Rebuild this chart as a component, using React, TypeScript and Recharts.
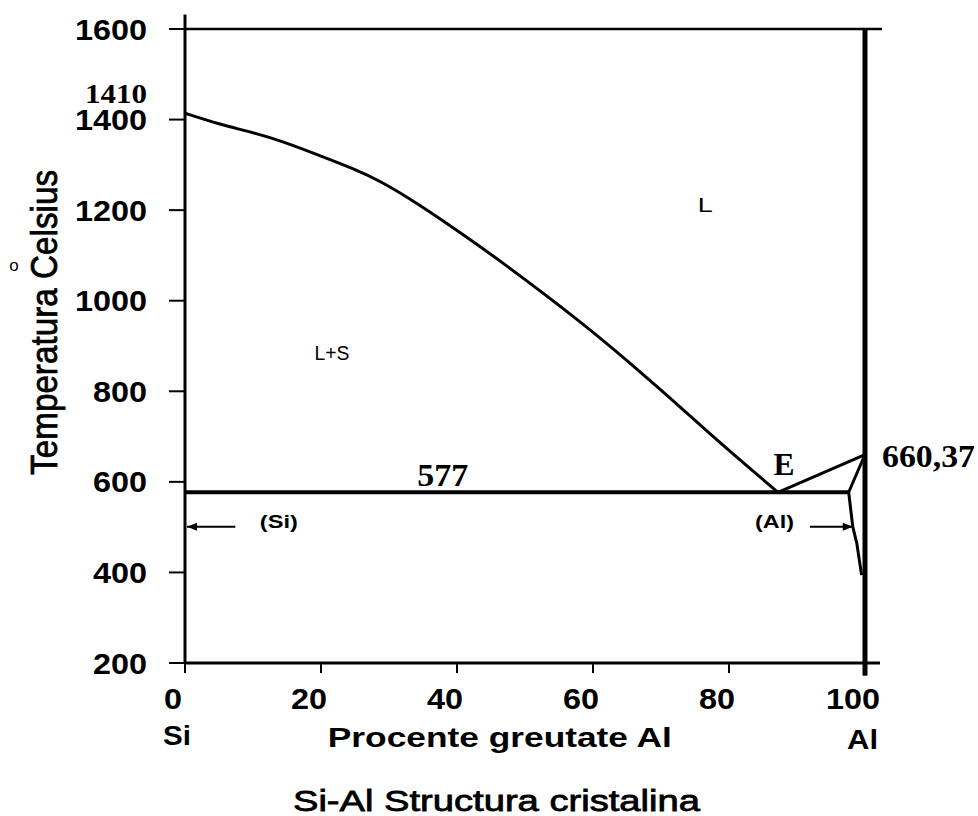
import React from "react";
import { ComposedChart, Line, XAxis, YAxis, ReferenceDot, ReferenceLine } from "recharts";

// Si-Al phase diagram
const liquidusPct = [0, 5.2, 9.1, 14, 19.9, 24.7, 28.7, 34.6, 40.9, 46.3, 58.6, 68.4, 78.2, 87.2];
const liquidusTemp = [1414, 1389, 1375, 1354, 1320, 1292, 1265, 1211, 1146, 1089, 950, 825, 692, 577];
const eutecticPct = 87.2;
const eutecticTemp = 577;
const alSolidPct = 97.6;
const alMeltTemp = 660.37;
const solvusPct = [97.6, 98.2, 98.8, 99.5];
const solvusTemp = [577, 501, 464, 394];
const arrowTemp = 501;
const siArrowPct = [0.3, 7.4];
const alArrowPct = [91.9, 98.2];

const tempTicks = [200, 400, 600, 800, 1000, 1200, 1400, 1600];
const pctTicks = [0, 20, 40, 60, 80, 100];
const topTicks = [20, 40, 60, 80, 100];
const rightTicks = [400, 600, 800, 1000, 1200, 1400];

const liquidus = liquidusPct.map((x, i) => ({ x, t: liquidusTemp[i] }));
const eutecticLine = [{ x: 0, t: eutecticTemp }, { x: alSolidPct, t: eutecticTemp }];
const alLiquidus = [{ x: eutecticPct, t: eutecticTemp }, { x: 100, t: alMeltTemp }];
const alSolidus = [{ x: alSolidPct, t: eutecticTemp }, { x: 100, t: alMeltTemp }];
const solvus = solvusPct.map((x, i) => ({ x, t: solvusTemp[i] }));
const siArrow = siArrowPct.map(x => ({ x, t: arrowTemp }));
const alArrow = alArrowPct.map(x => ({ x, t: arrowTemp }));

const SANS = "'Liberation Sans', Arial, sans-serif";
const SERIF = "'Liberation Serif', 'Times New Roman', serif";

type NoteOpts = {
  dx?: number;
  dy?: number;
  size: number;
  family?: string;
  weight?: string;
  anchor?: "start" | "middle" | "end";
  length?: number;
  rotate?: boolean;
  heavy?: number;
};

const note = (text: string, o: NoteOpts) => ({
  content: (props: any) => {
    const vb = props.viewBox || {};
    const x = (vb.x ?? 0) + (o.dx ?? 0);
    const y = (vb.y ?? 0) + (o.dy ?? 0);
    return (
      <text
        x={x}
        y={y}
        textAnchor={o.anchor ?? "middle"}
        fontSize={o.size}
        fontFamily={o.family ?? SANS}
        fontWeight={o.weight ?? "normal"}
        fill="#000"
        stroke={o.heavy ? "#000" : undefined}
        strokeWidth={o.heavy}
        textLength={o.length}
        lengthAdjust={o.length ? "spacingAndGlyphs" : undefined}
        transform={o.rotate ? `rotate(-90 ${x} ${y})` : undefined}
      >
        {text}
      </text>
    );
  },
});

const XTick = (props: any) => {
  const { x, y, payload } = props;
  const s = String(payload.value);
  return (
    <text x={x - 12} y={y + 31} textAnchor="middle" fontSize={29} fontFamily={SANS} fontWeight="bold"
      fill="#000" textLength={s.length * 18} lengthAdjust="spacingAndGlyphs">
      {s}
    </text>
  );
};

const YTick = (props: any) => {
  const { x, y, payload } = props;
  const s = String(payload.value);
  return (
    <text x={x} y={y + 10.5} textAnchor="end" fontSize={29} fontFamily={SANS} fontWeight="bold"
      fill="#000" textLength={s.length * 18} lengthAdjust="spacingAndGlyphs">
      {s}
    </text>
  );
};

const arrowHead = (dir: "left" | "right", at: "first" | "last") => (p: any) => {
  const isEnd = at === "first" ? p.index === 0 : p.index === 1;
  if (!isEnd) return <g key={p.index} />;
  const { cx, cy } = p;
  const d = dir === "left"
    ? `M${cx},${cy} L${cx + 10},${cy - 4} L${cx + 10},${cy + 4} Z`
    : `M${cx},${cy} L${cx - 10},${cy - 4} L${cx - 10},${cy + 4} Z`;
  return <path key={p.index} d={d} fill="#000" />;
};

const lineProps = {
  xAxisId: "b",
  yAxisId: "l",
  dataKey: "t",
  stroke: "#000",
  dot: false,
  activeDot: false,
  isAnimationActive: false,
} as const;

const refProps = { xAxisId: "b", yAxisId: "l", r: 0, fill: "none", stroke: "none", ifOverflow: "visible" } as const;

export default function App() {
  return (
    <div style={{ position: "absolute", left: 0, top: 0, width: 978, height: 816, background: "#fff" }}>
      <ComposedChart width={978} height={816} margin={{ top: 0, right: 0, bottom: 0, left: 0 }}>
        <XAxis xAxisId="b" dataKey="x" type="number" domain={[0, 100]} ticks={pctTicks} orientation="bottom"
          height={153} tickSize={10} tickMargin={5} interval={0} tick={<XTick />}
          axisLine={{ stroke: "#000", strokeWidth: 3 }} tickLine={{ stroke: "#000", strokeWidth: 2 }} />
        <XAxis xAxisId="t" dataKey="x" type="number" domain={[0, 100]} ticks={topTicks} orientation="top"
          height={29} tickSize={14} tick={false} interval={0}
          axisLine={{ stroke: "#000", strokeWidth: 2.5 }} tickLine={{ stroke: "#000", strokeWidth: 2 }} />
        <YAxis yAxisId="l" type="number" domain={[200, 1600]} ticks={tempTicks} orientation="left"
          width={185} tickSize={16} tickMargin={22} interval={0} tick={<YTick />}
          axisLine={{ stroke: "#000", strokeWidth: 3 }} tickLine={{ stroke: "#000", strokeWidth: 2 }} />
        <YAxis yAxisId="r" type="number" domain={[200, 1600]} ticks={rightTicks} orientation="right"
          width={113} tickSize={15} tick={false} interval={0}
          axisLine={{ stroke: "#000", strokeWidth: 5 }} tickLine={{ stroke: "#000", strokeWidth: 2 }} />

        <ReferenceLine xAxisId="b" yAxisId="l" ifOverflow="visible" stroke="#000" strokeWidth={3}
          segment={[{ x: 100, y: 200 }, { x: 102.2, y: 200 }]} />
        <ReferenceLine xAxisId="b" yAxisId="l" ifOverflow="visible" stroke="#000" strokeWidth={2.5}
          segment={[{ x: 100, y: 1600 }, { x: 102.5, y: 1600 }]} />
        <ReferenceLine xAxisId="b" yAxisId="l" ifOverflow="visible" stroke="#000" strokeWidth={3}
          segment={[{ x: 0, y: 1600 }, { x: 0, y: 1632 }]} />
        <ReferenceLine xAxisId="b" yAxisId="l" ifOverflow="visible" stroke="#000" strokeWidth={5}
          segment={[{ x: 100, y: 200 }, { x: 100, y: 172 }]} />

        <Line {...lineProps} data={liquidus} type="basis" strokeWidth={3} />
        <Line {...lineProps} data={eutecticLine} type="linear" strokeWidth={4} />
        <Line {...lineProps} data={alLiquidus} type="linear" strokeWidth={3} />
        <Line {...lineProps} data={alSolidus} type="linear" strokeWidth={3} />
        <Line {...lineProps} data={solvus} type="linear" strokeWidth={3} />
        <Line {...lineProps} data={siArrow} type="linear" strokeWidth={2} dot={arrowHead("left", "first")} />
        <Line {...lineProps} data={alArrow} type="linear" strokeWidth={2} dot={arrowHead("right", "last")} />

        <ReferenceDot {...refProps} x={0} y={1410}
          label={note("1410", { dx: -38, dy: -12, size: 27, family: SERIF, weight: "bold", anchor: "end", length: 62 })} />
        <ReferenceDot {...refProps} x={37.9} y={eutecticTemp}
          label={note("577", { dy: -6, size: 31, family: SERIF, weight: "bold", length: 51 })} />
        <ReferenceDot {...refProps} x={eutecticPct} y={eutecticTemp}
          label={note("E", { dx: 6, dy: -17, size: 32, family: SERIF, weight: "bold", length: 21 })} />
        <ReferenceDot {...refProps} x={100} y={alMeltTemp}
          label={note("660,37", { dx: 17, dy: 12, size: 32, family: SERIF, weight: "bold", anchor: "start", length: 93 })} />
        <ReferenceDot {...refProps} x={76.5} y={1212}
          label={note("L", { dy: 7.5, size: 21, length: 15 })} />
        <ReferenceDot {...refProps} x={21.6} y={887}
          label={note("L+S", { dy: 8, size: 20, length: 35 })} />
        <ReferenceDot {...refProps} x={13.8} y={arrowTemp}
          label={note("(Si)", { dy: 1, size: 18, weight: "bold", length: 38 })} />
        <ReferenceDot {...refProps} x={86.7} y={arrowTemp}
          label={note("(Al)", { dy: 1.5, size: 18, weight: "bold", length: 39 })} />

        <ReferenceDot {...refProps} x={0} y={200}
          label={note("Si", { dx: -8, dy: 82, size: 28, weight: "bold", length: 28 })} />
        <ReferenceDot {...refProps} x={46.3} y={200}
          label={note("Procente greutate Al", { dy: 84, size: 27, weight: "bold", length: 344 })} />
        <ReferenceDot {...refProps} x={100} y={200}
          label={note("Al", { dx: -2.5, dy: 86, size: 28, weight: "bold", length: 31 })} />
        <ReferenceDot {...refProps} x={45.8} y={200}
          label={note("Si-Al Structura cristalina", { dy: 148, size: 30, length: 407, heavy: 0.8 })} />
        <ReferenceDot {...refProps} x={0} y={952}
          label={note("Temperatura Celsius", { dx: -128, size: 37, length: 305, rotate: true, heavy: 0.8 })} />
        <ReferenceDot {...refProps} x={0} y={1074.5}
          label={note("o", { dx: -171, dy: 4.5, size: 17 })} />
      </ComposedChart>
    </div>
  );
}
